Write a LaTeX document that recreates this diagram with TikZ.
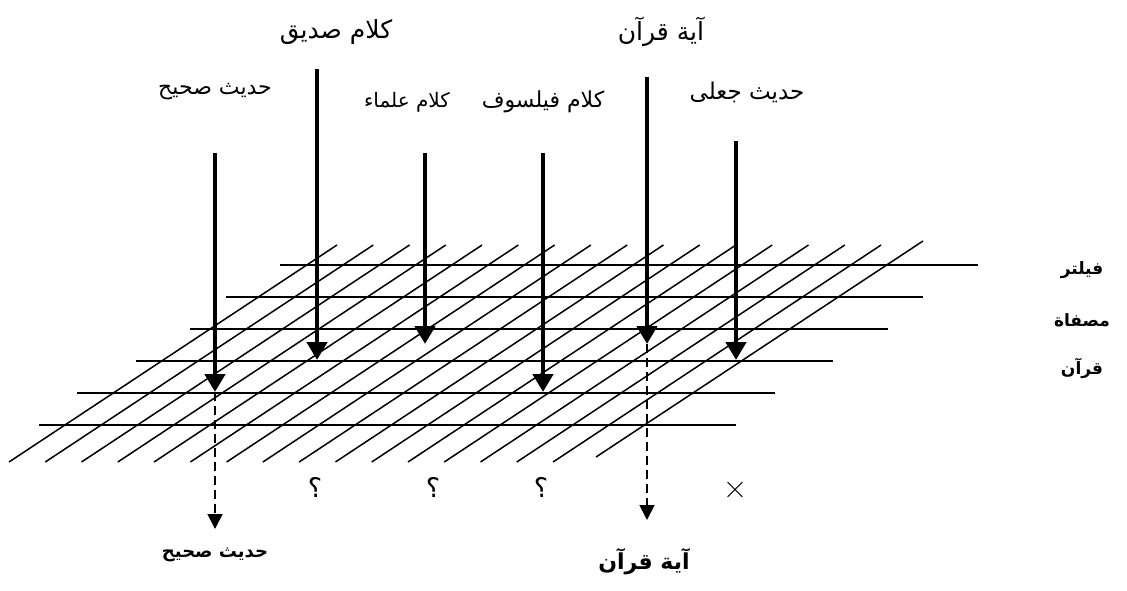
\documentclass[tikz,border=0pt]{standalone}
\usepackage{fontspec}
\TeXXeTstate=1
\newfontfamily\arabicfont[Script=Arabic]{DejaVu Sans}
\usetikzlibrary{arrows.meta}
\newcommand{\fsz}[1]{\fontsize{#1}{#1}\selectfont}
\begin{document}
\begin{tikzpicture}[x=1pt,y=-1pt,
  gridline/.style={line width=1.5pt},
  bigarrow/.style={line width=4.6pt, -{Triangle[width=20pt,length=18pt]}},
  dasharrow/.style={line width=1.7pt, dash pattern=on 9pt off 5pt, -{Triangle[width=15pt,length=15pt]}},
  toplbl/.style={font=\arabicfont, inner sep=0pt},
  sidelbl/.style={font=\arabicfont\bfseries\fsz{17}, inner sep=0pt},
  botlbl/.style={font=\arabicfont\bfseries, inner sep=0pt},
  qmark/.style={inner sep=0pt, font=\arabicfont\fsz{27}},
  xmark/.style={inner sep=0pt}
]
\useasboundingbox (0,0) rectangle (1127,590);

% horizontal grid lines
\foreach \y/\a/\b in {265/280/978, 297/226/923, 329/190/888, 361/136/833, 393/77/775, 425/39/736}
  \draw[gridline] (\a,\y) -- (\b,\y);
% diagonal grid lines
\foreach \k in {0,...,15}
  \draw[gridline] ({9+36.27*\k},462) -- ({337+36.27*\k},245);
\draw[gridline] (596,457) -- (923,241);

% top labels
\node[toplbl] (hs)  at (215,92)  {\fsz{22}\beginR حديث صحيح\endR};
\node[toplbl] (ks)  at (336,32)  {\fsz{25}\beginR كلام صديق\endR};
\node[toplbl] (ku)  at (407,102) {\fsz{20}\beginR كلام علماء\endR};
\node[toplbl] (kf)  at (543,102) {\fsz{22}\beginR كلام فيلسوف\endR};
\node[toplbl] (aq)  at (661,32)  {\fsz{25}\beginR آية قرآن\endR};
\node[toplbl] (hj)  at (747,92)  {\fsz{23}\beginR حديث جعلى\endR};

% arrow start and end points
\coordinate (hsA) at (215,153); \coordinate (hsB) at (215,392);
\coordinate (ksA) at (317,69);  \coordinate (ksB) at (317,360);
\coordinate (kuA) at (425,153); \coordinate (kuB) at (425,344);
\coordinate (kfA) at (543,153); \coordinate (kfB) at (543,392);
\coordinate (aqA) at (647,77);  \coordinate (aqB) at (647,344);
\coordinate (hjA) at (736,141); \coordinate (hjB) at (736,360);

\draw[bigarrow] (hsA) -- (hsB);
\draw[bigarrow] (ksA) -- (ksB);
\draw[bigarrow] (kuA) -- (kuB);
\draw[bigarrow] (kfA) -- (kfB);
\draw[bigarrow] (aqA) -- (aqB);
\draw[bigarrow] (hjA) -- (hjB);

% side labels
\node[sidelbl] (f1) at (1082,270) {\beginR فيلتر\endR};
\node[sidelbl] (f2) at (1082,320) {\beginR مصفاة\endR};
\node[sidelbl] (f3) at (1082,368) {\beginR قرآن\endR};

% bottom marks
\node[qmark] (q1) at (315,487) {\beginR ؟\endR};
\node[qmark] (q2) at (433,487) {\beginR ؟\endR};
\node[qmark] (q3) at (541,487) {\beginR ؟\endR};
\node[xmark] (x1) at (735,490) {\fsz{34}×};

% bottom outputs
\node[botlbl] (hsOut) at (215,555) {\fsz{18}\beginR حديث صحيح\endR};
\node[botlbl] (aqOut) at (644,562) {\fsz{22}\beginR آية قرآن\endR};
\coordinate (hsD) at (215,529);
\coordinate (aqD) at (647,520);
\draw[dasharrow] (hsB) -- (hsD);
\draw[dasharrow] (aqB) -- (aqD);
\end{tikzpicture}
\end{document}
